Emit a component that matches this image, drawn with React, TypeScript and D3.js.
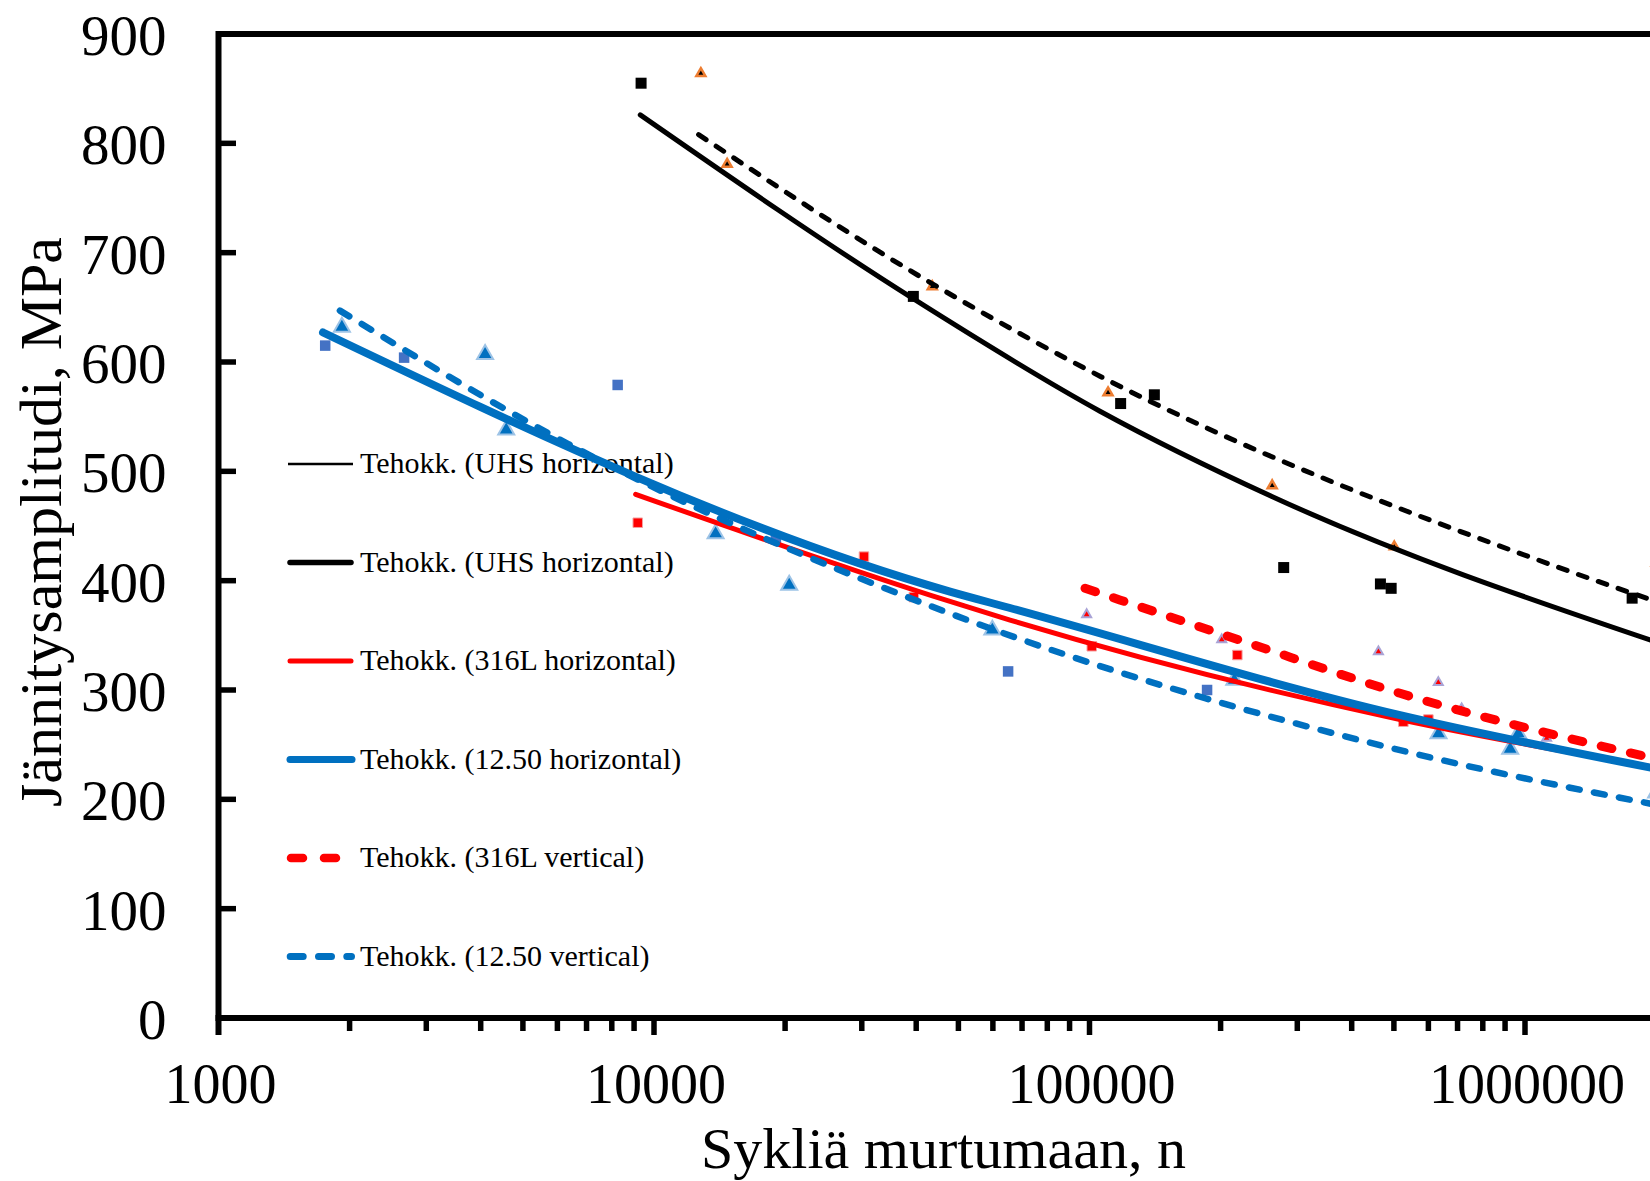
import * as d3 from "d3";

// cycles to failure (n) and stress amplitude (MPa)
// squares = horizontal builds, triangles = vertical builds
const uhsHorN = [9340, 39400, 117900, 140900, 279200, 465600, 492800, 1762000];
const uhsHorS = [855, 660, 562, 570, 412, 397, 393, 384];
const uhsVerN = [12810, 14720, 43550, 110300, 262700, 501000, 2000000];
const uhsVerS = [864, 781, 669, 572, 487, 431, 416];
const l316HorN = [9176, 30350, 39500, 101200, 218500, 525600, 600000];
const l316HorS = [453, 422, 385, 340, 332, 271, 273];
const l316VerN = [98500, 201200, 460700, 632300, 715400, 1121000];
const l316VerS = [369, 346, 335, 307, 283, 256];
const s1250HorN = [1758, 2668, 8252, 19050, 65030, 186200, 2000000];
const s1250HorS = [615, 604, 579, 439, 317, 300, 253];
const s1250VerN = [1920, 4094, 4578, 13850, 20440, 59820, 215000, 633000, 924700, 965000, 2000000];
const s1250VerS = [632, 607, 538, 443, 396, 355, 309, 260, 246, 260, 206];

// trendlines (Tehokk.), sampled along the drawn curves
const fitUhsHorN = [9300, 39700, 105700, 262300, 2000000];
const fitUhsHorS = [826, 657, 555, 477, 344];
const fitUhsVerN = [12660, 43370, 105700, 1178000, 2000000];
const fitUhsVerS = [808, 672, 587, 413, 381];
const fit316HorN = [9074, 47830, 65700, 516400, 2000000];
const fit316HorS = [479, 381, 364, 273, 229];
const fit1250HorN = [1738, 47830, 65700, 516400, 2000000];
const fit1250HorS = [627, 390, 375, 277, 228];
const fit316VerN = [97660, 220000, 516400, 2000000];
const fit316VerS = [393, 346, 297, 237];
const fit1250VerN = [1900, 6357, 47830, 516400, 2000000];
const fit1250VerS = [647, 525, 370, 245, 195];

const legendLabels = [
  "Tehokk. (UHS horizontal)",
  "Tehokk. (UHS horizontal)",
  "Tehokk. (316L horizontal)",
  "Tehokk. (12.50 horizontal)",
  "Tehokk. (316L vertical)",
  "Tehokk. (12.50 vertical)",
];

const W = 1650;
const H = 1181;
const serif = "'Liberation Serif', 'Times New Roman', serif";

const zip = (a: number[], b: number[]) => a.map((v, i) => [v, b[i]] as [number, number]);

export default function App() {
  const x = d3.scaleLog().domain([1e3, 1e7]).range([218.5, 1960.5]);
  const y = d3.scaleLinear().domain([0, 900]).range([1018, 34]);
  const line = d3
    .line<[number, number]>()
    .x((d) => x(d[0]))
    .y((d) => y(d[1]))
    .curve(d3.curveMonotoneX);

  const sq = (side: number) => d3.symbol(d3.symbolSquare, side * side)();
  const tri = (side: number) => d3.symbol(d3.symbolTriangle, (Math.sqrt(3) / 4) * side * side)();

  const markers = (
    n: number[],
    s: number[],
    path: string | null,
    fill: string,
    stroke: string,
    sw: number
  ) =>
    zip(n, s).map((d, i) => (
      <path
        key={i}
        d={path || ""}
        transform={`translate(${x(d[0])},${y(d[1])})`}
        fill={fill}
        stroke={stroke}
        strokeWidth={sw}
      />
    ));

  const xTicks = x.ticks().filter((t) => x(t) < W + 10 && t > 1000);
  const isMajor = (t: number) => Math.abs(Math.log10(t) - Math.round(Math.log10(t))) < 1e-9;
  const xLabels = [1e3, 1e4, 1e5, 1e6];
  const yTicks = y.ticks(9);

  const legendY = (i: number) => 464 + i * 98.5;

  return (
    <div
      style={{
        position: "fixed",
        left: 0,
        top: 0,
        width: W,
        height: H,
        overflow: "hidden",
        background: "#fff",
      }}
    >
      <svg width={W} height={H} style={{ display: "block" }}>
        <rect width={W} height={H} fill="#fff" />

        {/* legend (drawn under the curves) */}
        <g fontFamily={serif} fontSize={30} fill="#000">
          <line x1={288} x2={353} y1={legendY(0)} y2={legendY(0)} stroke="#000" strokeWidth={2.5} />
          <line x1={290} x2={351} y1={legendY(1)} y2={legendY(1)} stroke="#000" strokeWidth={5.5} strokeLinecap="round" />
          <line x1={290} x2={351} y1={legendY(2)} y2={legendY(2)} stroke="#ff0000" strokeWidth={5} strokeLinecap="round" />
          <line x1={290} x2={352} y1={legendY(3)} y2={legendY(3)} stroke="#0070c0" strokeWidth={7} strokeLinecap="round" />
          <line x1={291} x2={351} y1={legendY(4)} y2={legendY(4)} stroke="#ff0000" strokeWidth={8.5} strokeLinecap="round" strokeDasharray="12 21" />
          <line x1={290.2} x2={351.5} y1={legendY(5)} y2={legendY(5)} stroke="#0070c0" strokeWidth={7} strokeLinecap="round" strokeDasharray="13 15.3" />
          {legendLabels.map((t, i) => (
            <text key={i} x={360} y={legendY(i) + 9}>
              {t}
            </text>
          ))}
        </g>

        {/* data markers */}
        {markers(uhsHorN, uhsHorS, sq(11), "#000", "none", 0)}
        {markers(uhsVerN, uhsVerS, tri(9), "#000", "#ed7d31", 2.5)}
        {markers(s1250HorN, s1250HorS, sq(10.5), "#4472c4", "none", 0)}
        {markers(s1250VerN, s1250VerS, tri(16), "#0070c0", "#9dc3e6", 2)}
        {markers(l316HorN, l316HorS, sq(9.5), "#ff0000", "#f4a0a0", 1)}
        {markers(l316VerN, l316VerS, tri(9), "#ff0000", "#a9a3d6", 2)}

        {/* trendlines */}
        <g fill="none" strokeLinecap="round">
          <path d={line(zip(fitUhsHorN, fitUhsHorS)) || ""} stroke="#000" strokeWidth={5} />
          <path d={line(zip(fitUhsVerN, fitUhsVerS)) || ""} stroke="#000" strokeWidth={5} strokeDasharray="9 12" />
          <path d={line(zip(fit316HorN, fit316HorS)) || ""} stroke="#ff0000" strokeWidth={5} />
          <path d={line(zip(fit1250HorN, fit1250HorS)) || ""} stroke="#0070c0" strokeWidth={8} />
          <path d={line(zip(fit316VerN, fit316VerS)) || ""} stroke="#ff0000" strokeWidth={9} strokeDasharray="11 19" />
          <path d={line(zip(fit1250VerN, fit1250VerS)) || ""} stroke="#0070c0" strokeWidth={6.5} strokeDasharray="11 14.5" />
        </g>

        {/* axes frame */}
        <g stroke="#000" strokeWidth={6}>
          <line x1={218.5} x2={W + 20} y1={34} y2={34} />
          <line x1={218.5} x2={218.5} y1={31} y2={1035} />
          <line x1={215.5} x2={W + 20} y1={1018} y2={1018} />
          {yTicks
            .filter((t) => t > 0 && t < 900)
            .map((t) => (
              <line key={t} x1={218.5} x2={236} y1={y(t)} y2={y(t)} strokeWidth={5.5} />
            ))}
          {xTicks.map((t) => (
            <line key={t} x1={x(t)} x2={x(t)} y1={1018} y2={isMajor(t) ? 1035 : 1031} strokeWidth={5.5} />
          ))}
        </g>

        {/* tick labels */}
        <g fontFamily={serif} fill="#000">
          {yTicks.map((t) => (
            <text key={t} x={166.5} y={y(t) + 21} fontSize={57} textAnchor="end">
              {t}
            </text>
          ))}
          {xLabels.map((t) => (
            <text key={t} x={x(t) + 2} y={1103} fontSize={56} textAnchor="middle">
              {t}
            </text>
          ))}
        </g>

        {/* axis titles */}
        <text x={943.5} y={1168} fontFamily={serif} fontSize={58} textAnchor="middle">
          Sykliä murtumaan, n
        </text>
        <text
          transform="translate(61,522) rotate(-90)"
          fontFamily={serif}
          fontSize={60}
          textAnchor="middle"
        >
          Jännitysamplitudi, MPa
        </text>
      </svg>
    </div>
  );
}
